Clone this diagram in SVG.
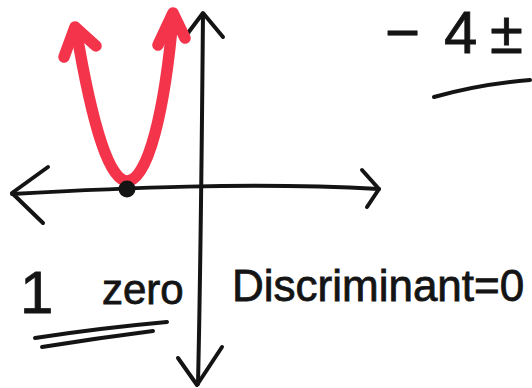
<svg xmlns="http://www.w3.org/2000/svg" width="532" height="388" viewBox="0 0 532 388">
<style>
.ink{fill:none;stroke:#141414;stroke-width:4;stroke-linecap:round;stroke-linejoin:round}
.red{fill:none;stroke:#f3344a;stroke-width:11.5;stroke-linecap:round;stroke-linejoin:round}
.t{font-family:"Liberation Sans",Arial,sans-serif;fill:#141414;stroke:#141414;stroke-width:0.8}
</style>
<rect width="532" height="388" fill="#ffffff"/>
<g id="axes">
<path class="ink" d="M12,194 C120,188 250,182 379,189"/>
<path class="ink" d="M48,167 L12,193 L43,223"/>
<path class="ink" d="M362,170 L379,189 L367,207"/>
<path class="ink" d="M203,14 C202,120 201,250 198,384"/>
<path class="ink" d="M188,33 L203,13 L223,37"/>
<path class="ink" d="M178,358 L197,385 L222,347"/>
</g>
<g id="parabola">
<path class="red" d="M76,29 Q101.5,181 127,181 C148,181 165,110 173,16"/>
<path class="red" d="M64,57 L75,27 L96,46"/>
<path class="red" d="M158,45 L173,13 L185,38"/>
<circle cx="127" cy="189" r="8.5" fill="#141414"/>
</g>
<g id="formula">
<text class="t" font-size="60"><tspan x="385" y="53">−</tspan><tspan x="444" y="53">4</tspan><tspan x="490" y="53">±</tspan></text>
<path class="ink" d="M434,97 Q480,84 530,80"/>
</g>
<g id="label">
<text class="t" x="20" y="313" font-size="60">1</text>
<text class="t" x="102" y="304" font-size="42">zero</text>
<path class="ink" d="M35,338 Q100,328 167,322"/>
<path class="ink" d="M42,347 Q98,338 153,331"/>
<text class="t" x="232" y="301" font-size="44">Discriminant=0</text>
</g>
</svg>
